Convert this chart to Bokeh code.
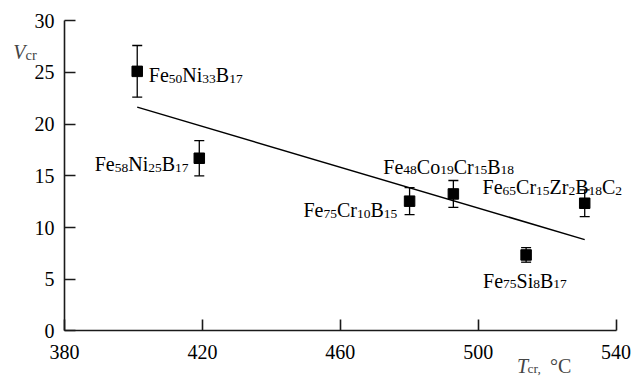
import re
import numpy as np
from bokeh.plotting import figure
from bokeh.models import (ColumnDataSource, Whisker, TeeHead, Label, Range1d,
                          FixedTicker, LinearAxis)
from bokeh.embed import file_html
from bokeh.resources import INLINE

# Critical temperature (°C) and critical value with uncertainties
alloys = ["Fe50Ni33B17", "Fe58Ni25B17", "Fe75Cr10B15",
          "Fe48Co19Cr15B18", "Fe75Si8B17", "Fe65Cr15Zr2B18C2"]
t_cr = [401.1, 419.1, 480.1, 492.8, 513.9, 530.9]
v_cr = [25.1, 16.7, 12.55, 13.25, 7.35, 12.35]
v_err = [2.5, 1.7, 1.3, 1.3, 0.7, 1.3]

x_ticks = [380, 420, 460, 500, 540]
y_ticks = [0, 5, 10, 15, 20, 25, 30]

# label placement relative to each marker: (x_offset px, baseline y_offset px, align)
label_pos = [(11.6, -4, "left"), (-10.7, -6, "right"), (-12.3, -9.3, "right"),
             (-4.7, 27, "center"), (-1.2, -25.7, "center"), (37.4, 16, "right")]

FONT = '"Liberation Serif"'
MAIN = 20.0      # px, element symbols
SUB = 13.5       # px, subscripts
SUB_DROP = 3.5   # px, subscript baseline shift

# Times / Liberation Serif advance widths (per em)
ADV = {"F": .556, "e": .444, "N": .722, "i": .278, "B": .667, "C": .667,
       "o": .5, "r": .333, "Z": .611, "S": .556, "c": .444, ",": .25}


def text_width(s, size):
    return sum(ADV.get(ch, .5) for ch in s) * size


def formula_runs(formula):
    """Split 'Fe50Ni33B17' into (text, is_subscript) runs."""
    return [(m, m.isdigit()) for m in re.findall(r"[A-Za-z]+|\d+", formula)]


def add_formula(plot, formula, x, y, dx, dy, align):
    runs = formula_runs(formula)
    total = sum(text_width(t, SUB if sub else MAIN) for t, sub in runs)
    start = dx - {"left": 0, "center": total / 2, "right": total}[align]
    for t, sub in runs:
        size = SUB if sub else MAIN
        plot.add_layout(Label(x=x, y=y, x_offset=start,
                              y_offset=dy - (SUB_DROP if sub else 0), text=t,
                              text_align="left", text_baseline="alphabetic",
                              text_font=FONT, text_font_size=f"{size}px",
                              text_color="black"))
        start += text_width(t, size)


# the frame spans the whole canvas; axes sit at fixed data positions
p = figure(width=631, height=376, output_backend="svg", toolbar_location=None,
           title=None,
           x_range=Range1d(361.44, 544.47), y_range=Range1d(-4.40, 31.95),
           min_border=0, x_axis_type=None, y_axis_type=None)
p.outline_line_color = None
p.background_fill_color = "white"
p.border_fill_color = "white"

xaxis = LinearAxis(fixed_location=0, bounds=(380, 540))
yaxis = LinearAxis(fixed_location=380, bounds=(0, 30))
xaxis.ticker = FixedTicker(ticks=x_ticks)
yaxis.ticker = FixedTicker(ticks=y_ticks)
for ax in (xaxis, yaxis):
    ax.axis_line_width = 1.6
    ax.axis_line_color = "#1a1a1a"
    ax.major_tick_line_color = "#1a1a1a"
    ax.major_tick_line_width = 1.6
    ax.major_tick_in = 11
    ax.major_tick_out = 0
    ax.minor_tick_line_color = None
    ax.major_label_text_font = FONT
    ax.major_label_text_font_size = "20px"
    ax.major_label_text_color = "black"
xaxis.major_label_standoff = 14
yaxis.major_label_standoff = 10
p.add_layout(xaxis, "below")
p.add_layout(yaxis, "left")

src = ColumnDataSource(dict(
    x=t_cr, y=v_cr,
    lo=[v - e for v, e in zip(v_cr, v_err)],
    hi=[v + e for v, e in zip(v_cr, v_err)],
))

# least-squares trend line over the measured span
k, b = np.polyfit(t_cr, v_cr, 1)
xs = np.array([min(t_cr), max(t_cr)])
p.line(xs, k * xs + b, line_color="black", line_width=1.5)

p.add_layout(Whisker(source=src, base="x", lower="lo", upper="hi",
                     line_color="black", line_width=1.3,
                     upper_head=TeeHead(size=10, line_color="black", line_width=1.3),
                     lower_head=TeeHead(size=10, line_color="black", line_width=1.3)))
p.scatter("x", "y", source=src, marker="square", size=10.5,
          fill_color="black", line_color="black")

for name, x, y, (dx, dy, al) in zip(alloys, t_cr, v_cr, label_pos):
    add_formula(p, name, x, y, dx, dy, al)

# axis titles
p.add_layout(Label(x=380, y=30, x_offset=-51.3, y_offset=-31.7, text="V",
                   text_font=FONT, text_font_style="italic",
                   text_font_size=f"{MAIN}px", text_baseline="alphabetic"))
p.add_layout(Label(x=380, y=30, x_offset=-39, y_offset=-34.5, text="cr",
                   text_font=FONT, text_font_size=f"{SUB + 1}px",
                   text_baseline="alphabetic"))
p.add_layout(Label(x=540, y=0, x_offset=-99, y_offset=-35, text="T",
                   text_font=FONT, text_font_style="italic",
                   text_font_size=f"{MAIN}px", text_baseline="alphabetic"))
p.add_layout(Label(x=540, y=0, x_offset=-88.5, y_offset=-37.5, text="cr,",
                   text_font=FONT, text_font_size=f"{SUB}px",
                   text_baseline="alphabetic"))
p.add_layout(Label(x=540, y=0, x_offset=-66, y_offset=-35, text="°C",
                   text_font=FONT, text_font_size=f"{MAIN}px",
                   text_baseline="alphabetic"))

open("out.html", "w").write(file_html(p, INLINE))
